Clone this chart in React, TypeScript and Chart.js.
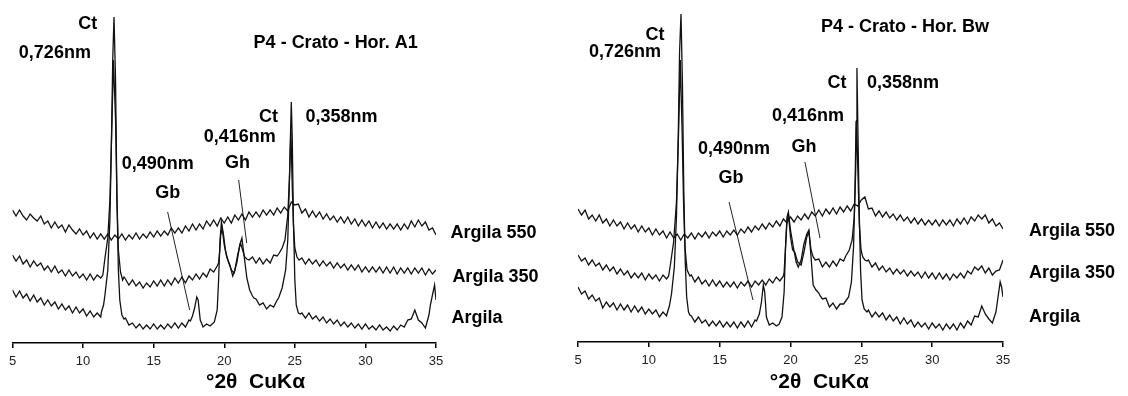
import { useEffect, useRef } from "react";
import { Chart, registerables } from "chart.js";

Chart.register(...registerables);

// ---------- data (relative intensity, arbitrary units) ----------
const THETA_START = 5;
const THETA_STEP = 0.25;
const X_MIN = 5;
const X_MAX = 35;
const X_STEP = 5;

const SERIES_NAMES = ["Argila 550", "Argila 350", "Argila"];

// Left panel: P4 - Crato - Hor. A1 (grid 5..35 step 0.25; null = covered by detail arrays)
const L550 = [133,127,133,127,123, 129,125,122,127, 119,122,115,121, 115,118,111,118, 113,109,114,108, 112,105,110,104, 109,104,109,103, 108,104,109,103, 108,104,110,104, 109,105,111,106, 112,107,112,108, 115,110,115,110, 117,112,119,113, 119,114,122,117, 123,117,125,120, 126,120,128,123, 129,123,131,126, 131,126,133,128, 133,128,135,130, 136,132,141,138, 139,130,134,126, 132,126,131,124, 129,123,127,121, 126,120,126,119, 124,117,123,117, 122,115,121,115, 120,114,119,114, 119,113,119,114, 122,116,123,117, 121,113,115,108];
const L350 = [88,82,87,79,83, 76,82,77,80, 73,77,71,77, 70,73,67,73, 67,71,65,69, 63,69,63,68, 65,
  null,null,null,null,null,null,
  64,58,63,57, 61,55,60,56, 62,57,63,57, 63,58,65,60, 66,60,67,63, 69,64,70,66, 74,71,77,
  null,null,null,null,null,null,null,null,
  83,86,80,85,79,84,80,88,87,
  null,null,null,null,null,null,
  85,79,84,79,83,77,82,77,81,75,80,75,79,73,78,73,78,71,76,71,76,71,76,70,76,70,76,69,75,70,75,69,75,70,75,68,74,69,73];
const L0 = [53,46,52,45,49, 42,48,41,45, 38,43,37,41, 34,39,33,37, 30,36,30,34, 27,32,26,30, 26,
  null,null,null,null,null,null,
  25,18,20,15, 19,14,18,14, 19,14,18,14, 19,15,20,15, 20,16,23,
  null,null,null,null,null,null,null,null,null,null,null,null,null,null,null,null,null,null,
  44,38,40,34,38,36,43,
  null,null,null,null,null,null,
  30,25,30,24,27,22,26,20,24,19,23,17,21,16,20,15,19,14,19,14,17,13,18,13,16,12,17,13,18,16,23,24,33,23,20,15,28,
  null,null];

const L350_PEAKS: [number, number][][] = [
  [[11.4,68],[11.55,85],[11.75,105],[11.9,143],[12.05,223],[12.15,283],[12.3,223],[12.4,143],[12.5,93],[12.65,71],[12.8,63],[12.9,66]],
  [[19.6,80],[19.68,92],[19.75,108],[19.85,115],[20.0,98],[20.2,85],[20.4,78],[20.6,67],[20.75,73],[20.95,88],[21.15,100],[21.3,93],[21.45,86],[21.6,84]],
  [[23.9,90],[24.1,95],[24.3,103],[24.5,128],[24.62,165],[24.72,213],[24.8,165],[24.9,118],[25.0,95],[25.15,86],[25.3,83],[25.4,84]],
];
const L0_PEAKS: [number, number][][] = [
  [[11.3,31],[11.45,38],[11.55,48],[11.75,73],[11.9,123],[12.0,193],[12.1,283],[12.19,326],[12.3,263],[12.4,143],[12.5,73],[12.6,43],[12.75,28],[12.9,24]],
  [[17.6,22],[17.75,27],[17.9,35],[18.05,46],[18.15,43],[18.3,23],[18.5,16],[18.75,19],[19.0,17],[19.3,21],[19.5,33],[19.6,63],[19.7,103],[19.8,121],[19.95,108],[20.1,91],[20.3,81],[20.5,73],[20.7,70],[20.9,81],[21.1,98],[21.25,105],[21.4,88],[21.6,65],[21.8,53],[22.0,47],[22.1,45]],
  [[23.85,45],[24.1,55],[24.35,73],[24.5,103],[24.6,153],[24.7,213],[24.75,241],[24.82,203],[24.9,123],[25.0,63],[25.1,38],[25.25,30],[25.4,29]],
  [[34.6,38],[34.75,48],[34.9,58],[35.0,43]],
];

// Right panel: P4 - Crato - Hor. Bw
const R550 = [133,127,132,123,127, 121,127,119,123, 116,122,116,120, 113,119,113,117, 110,116,110,114, 107,113,107,111, 104,110,104,108, 102,108,104,109, 103,109,105,110, 104,110,106,111, 105,111,107,112, 107,113,109,115, 110,116,112,118, 113,119,115,121, 116,123,119,125, 120,126,122,128, 123,130,126,132, 126,133,128,134, 128,135,130,136, 131,138,136,142, 145,133,134,126, 131,125,130,124, 128,122,127,121, 125,119,124,118, 123,117,122,117, 122,116,122,117, 122,116,123,118, 124,118,125,121, 127,123,127,119, 123,116,119,113];
const R350 = [87,81,84,77,82, 76,79,72,77, 71,75,68,73, 67,71,64,69, 64,69,62,68, 63,67,61,67, 63,
  null,null,null,null,null,null,
  67,60,65,58, 62,56,62,56, 61,55,60,55, 60,54,60,56, 61,55,61,57, 62,57,63,59, 65,61,66,
  null,null,null,null,null,null,null,null,
  82,83,75,80,75,81,76,83,81,
  null,null,null,null,null,null,
  82,75,79,72,76,70,74,68,73,68,72,66,71,66,70,64,70,64,69,63,69,63,68,62,68,64,69,64,71,68,75,72,76,69,74,67,71,72,82];
const R0 = [55,48,51,43,47, 41,44,34,40, 35,39,32,38, 32,37,30,36, 30,35,28,33, 28,32,25,30, 26,
  null,null,null,null,null,null,
  26,20,25,19, 22,16,21,16, 21,15,20,15, 20,14,20,15, 21,15,22,
  null,null,null,null,null,null,null,null,null,null,null,null,null,null,null,null,null,null,
  43,44,35,39,33,38,38,
  null,null,null,null,null,null,
  32,25,30,25,29,22,27,21,25,18,24,18,22,15,20,15,19,13,19,14,18,12,18,13,18,12,19,14,21,17,26,25,36,28,23,19,30,
  null,null];

const R350_PEAKS: [number, number][][] = [
  [[11.4,66],[11.55,80],[11.75,100],[11.95,140],[12.1,210],[12.22,282],[12.35,210],[12.45,140],[12.55,95],[12.7,72],[12.9,66]],
  [[19.55,70],[19.65,95],[19.75,120],[19.85,128],[20.0,105],[20.15,92],[20.3,90],[20.5,80],[20.75,77],[20.95,90],[21.15,105],[21.3,110],[21.45,92],[21.6,85]],
  [[23.9,86],[24.15,92],[24.35,102],[24.5,125],[24.6,170],[24.66,222],[24.76,170],[24.86,118],[24.98,92],[25.1,85],[25.25,82],[25.4,81]],
];
const R0_PEAKS: [number, number][][] = [
  [[11.3,29],[11.45,36],[11.6,48],[11.8,75],[11.95,125],[12.07,200],[12.17,290],[12.27,328],[12.37,260],[12.47,150],[12.57,80],[12.67,45],[12.8,30],[12.9,27]],
  [[17.6,21],[17.8,28],[17.95,40],[18.08,57],[18.18,50],[18.3,25],[18.5,17],[18.75,19],[19.0,16],[19.2,18],[19.4,25],[19.55,50],[19.65,95],[19.75,125],[19.85,130],[20.0,112],[20.2,95],[20.4,80],[20.55,75],[20.75,82],[20.95,98],[21.15,108],[21.3,112],[21.45,85],[21.6,57],[21.8,52],[22.0,49],[22.1,46]],
  [[23.85,40],[24.1,45],[24.3,60],[24.45,95],[24.55,150],[24.63,220],[24.69,274],[24.76,210],[24.85,130],[24.95,70],[25.05,42],[25.2,33],[25.4,30]],
  [[34.6,40],[34.8,60],[34.9,55],[35.0,45]],
];

// Pointer lines (from label to reflection), in data units
const LEFT_POINTERS: [number, number][][] = [
  [[15.99,131],[17.55,33]],
  [[21.02,163],[21.59,100]],
];
const RIGHT_POINTERS: [number, number][][] = [
  [[15.66,140],[17.35,42]],
  [[21.02,180],[22.08,104]],
];

// Annotations: [text, 2theta, intensity, align]
type Lbl = [string, number, number, CanvasTextAlign];
const LEFT_LABELS: Lbl[] = [
  ["Ct", 10.33, 319, "center"],
  ["0,726nm", 5.45, 290, "left"],
  ["P4 - Crato - Hor. A1", 22.08, 300, "left"],
  ["Ct", 23.14, 226, "center"],
  ["0,358nm", 25.76, 226, "left"],
  ["0,416nm", 18.54, 206, "left"],
  ["Gh", 20.94, 180, "center"],
  ["0,490nm", 12.74, 179, "left"],
  ["Gb", 15.99, 150, "center"],
  [SERIES_NAMES[0], 36.02, 110, "left"],
  [SERIES_NAMES[1], 36.16, 66, "left"],
  [SERIES_NAMES[2], 36.09, 25, "left"],
];
const RIGHT_LABELS: Lbl[] = [
  ["Ct", 10.43, 307, "center"],
  ["0,726nm", 5.78, 290, "left"],
  ["P4 - Crato - Hor. Bw", 22.15, 315, "left"],
  ["Ct", 23.28, 259, "center"],
  ["0,358nm", 25.4, 259, "left"],
  ["0,416nm", 18.69, 226, "left"],
  ["Gh", 20.95, 195, "center"],
  ["0,490nm", 13.47, 193, "left"],
  ["Gb", 15.8, 164, "center"],
  [SERIES_NAMES[0], 36.83, 111, "left"],
  [SERIES_NAMES[1], 36.83, 69, "left"],
  [SERIES_NAMES[2], 36.83, 25, "left"],
];
const AXIS_TITLE = "°2θ  CuKα";

// ---------- helpers ----------
const FONT = '"Liberation Sans", Arial, Helvetica, sans-serif';
const LINE = "#111111";

function buildSeries(grid: (number | null)[], details: [number, number][][]) {
  const pts: { x: number; y: number }[] = [];
  grid.forEach((v, i) => {
    if (v !== null) pts.push({ x: THETA_START + i * THETA_STEP, y: v });
  });
  details.forEach((d) => d.forEach(([x, y]) => pts.push({ x, y })));
  pts.sort((a, b) => a.x - b.x);
  return pts;
}

type Panel = {
  series: { x: number; y: number }[][];
  pointers: [number, number][][];
  labels: Lbl[];
  titleTheta: number;
  padLeft: number;
  padRight: number;
  axisH: number;
  yMax: number;
};

function makeChart(canvas: HTMLCanvasElement, p: Panel) {
  const datasets: any[] = p.series.map((data, i) => ({
    label: SERIES_NAMES[i],
    data,
    borderColor: LINE,
    borderWidth: 1.3,
    pointRadius: 0,
    tension: 0,
    fill: false,
  }));
  p.pointers.forEach((seg) =>
    datasets.push({
      label: "pointer",
      data: seg.map(([x, y]) => ({ x, y })),
      borderColor: "#222",
      borderWidth: 1,
      pointRadius: 0,
      fill: false,
    })
  );

  const textPlugin = {
    id: "xrdText",
    afterDraw(chart: any) {
      const { ctx, scales } = chart;
      const x = scales.x;
      const y = scales.y;
      ctx.save();
      ctx.fillStyle = "#000";
      ctx.textBaseline = "middle";
      ctx.font = `bold 18px ${FONT}`;
      for (const [text, t, v, align] of p.labels) {
        ctx.textAlign = align;
        ctx.fillText(text, x.getPixelForValue(t), y.getPixelForValue(v));
      }
      ctx.textAlign = "center";
      ctx.font = `bold 21px ${FONT}`;
      ctx.fillText(AXIS_TITLE, x.getPixelForValue(p.titleTheta), x.bottom - 14);
      ctx.restore();
    },
  };

  return new Chart(canvas, {
    type: "line",
    data: { datasets },
    options: {
      responsive: false,
      animation: false,
      events: [],
      layout: { padding: { left: p.padLeft, right: p.padRight, top: 0, bottom: 0 } },
      plugins: { legend: { display: false }, tooltip: { enabled: false }, title: { display: false } },
      scales: {
        x: {
          type: "linear",
          min: X_MIN,
          max: X_MAX,
          ticks: { stepSize: X_STEP, color: "#222", font: { family: FONT, size: 13 }, padding: 6, maxRotation: 0 },
          grid: { display: true, drawOnChartArea: false, drawTicks: true, tickLength: 5, color: "#000", lineWidth: 1.5 },
          border: { display: true, color: "#000", width: 1.5 },
          afterFit: (scale: any) => {
            scale.height = p.axisH;
          },
        },
        y: { type: "linear", display: false, min: 0, max: p.yMax },
      },
    } as any,
    plugins: [textPlugin],
  });
}

export default function App() {
  const leftRef = useRef<HTMLCanvasElement>(null);
  const rightRef = useRef<HTMLCanvasElement>(null);

  useEffect(() => {
    const left = makeChart(leftRef.current!, {
      series: [buildSeries(L550, []), buildSeries(L350, L350_PEAKS), buildSeries(L0, L0_PEAKS)],
      pointers: LEFT_POINTERS,
      labels: LEFT_LABELS,
      titleTheta: 22.22,
      padLeft: 12.5,
      padRight: 124,
      axisH: 53,
      yMax: 343,
    });
    const right = makeChart(rightRef.current!, {
      series: [buildSeries(R550, []), buildSeries(R350, R350_PEAKS), buildSeries(R0, R0_PEAKS)],
      pointers: RIGHT_POINTERS,
      labels: RIGHT_LABELS,
      titleTheta: 22.04,
      padLeft: 18,
      padRight: 125,
      axisH: 54,
      yMax: 342,
    });
    return () => {
      left.destroy();
      right.destroy();
    };
  }, []);

  return (
    <div style={{ position: "absolute", left: 0, top: 0, width: 1128, height: 396, background: "#fff" }}>
      <canvas ref={leftRef} width={560} height={396} style={{ position: "absolute", left: 0, top: 0, width: 560, height: 396 }} />
      <canvas ref={rightRef} width={568} height={396} style={{ position: "absolute", left: 560, top: 0, width: 568, height: 396 }} />
    </div>
  );
}
